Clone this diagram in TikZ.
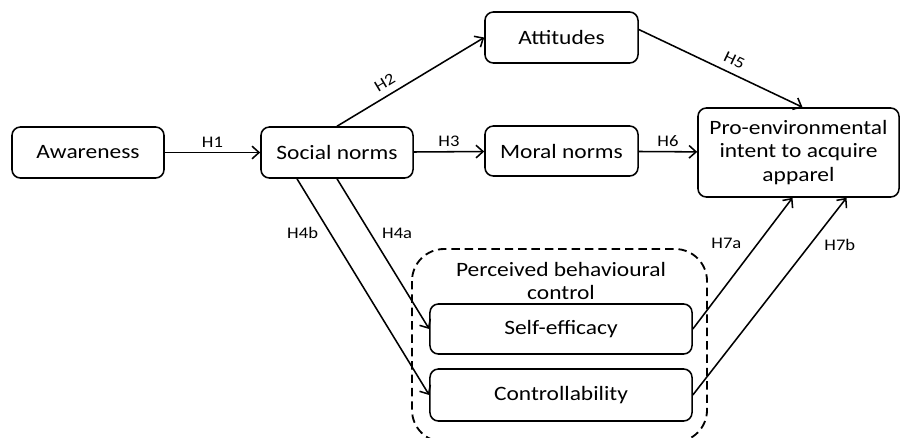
\documentclass[tikz,border=0pt]{standalone}
\usepackage{fontspec}
\setmainfont{Carlito}[FakeStretch=1.15]
\usetikzlibrary{arrows.meta}
\tikzstyle{box} = [rectangle,draw,rounded corners=6pt,line width=1.1pt,align=center,inner sep=2pt,font=\fontsize{14.5}{17}\selectfont]
\tikzstyle{hyp} = [font=\fontsize{11.5}{13}\selectfont,inner sep=2pt]
\tikzstyle{link} = [->,line width=1.1pt]

\begin{document}
\begin{tikzpicture}[x=0.025cm,y=-0.025cm,>={Straight Barb[length=5pt,width=9pt]}]
		\useasboundingbox (0,0) rectangle (901,437);
		\draw[line width=1.3pt,dash pattern=on 6pt off 3.5pt,rounded corners=0.8cm] (412,249) rectangle (707,442);
		\node [font=\fontsize{14.5}{16}\selectfont,align=center](pbc) at (561,281){Perceived behavioural\\control};
		\node [box,minimum width=3.8cm,minimum height=1.275cm](aw) at (88,152.5){Awareness};
		\node [box,minimum width=3.8cm,minimum height=1.275cm](sn) at (337,152.5){Social norms};
		\node [box,minimum width=3.825cm,minimum height=1.275cm](at) at (561.5,37.5){Attitudes};
		\node [box,minimum width=3.825cm,minimum height=1.25cm](mn) at (561.5,151){Moral norms};
		\node [box,minimum width=5.025cm,minimum height=2.225cm](pe) at (798.5,152.5){Pro-environmental\\intent to acquire\\apparel};
		\node [box,minimum width=6.55cm,minimum height=1.25cm](se) at (561,329){Self-efficacy};
		\node [box,minimum width=6.55cm,minimum height=1.3cm](co) at (561,395){Controllability};

		\draw[link](aw)--node[hyp,above,yshift=1pt]{H1}(sn);
		\draw[link](sn.north)--node[hyp,pos=.37,above=3pt,sloped]{H2}(at.west);
		\draw[link](sn)--node[hyp,above,yshift=1pt]{H3}(mn);
		\draw[link](sn.south)--node[hyp,pos=.36,right=6pt]{H4a}(se.west);
		\draw[link]([xshift=-1cm]sn.south)--node[hyp,pos=.25,left=6pt]{H4b}(co.west);
		\draw[link]([yshift=0.2cm]at.east)--node[hyp,pos=.55,above=3pt,sloped]{H5}([xshift=0.1cm]pe.north);
		\draw[link](mn)--node[hyp,above,yshift=1pt]{H6}(pe);
		\draw[link](se.east)--node[hyp,pos=.65,left=9pt]{H7a}([xshift=-0.15cm]pe.south);
		\draw[link](co.east)--node[hyp,pos=.76,right=8pt]{H7b}([xshift=1.2cm]pe.south);
\end{tikzpicture}
\end{document}
